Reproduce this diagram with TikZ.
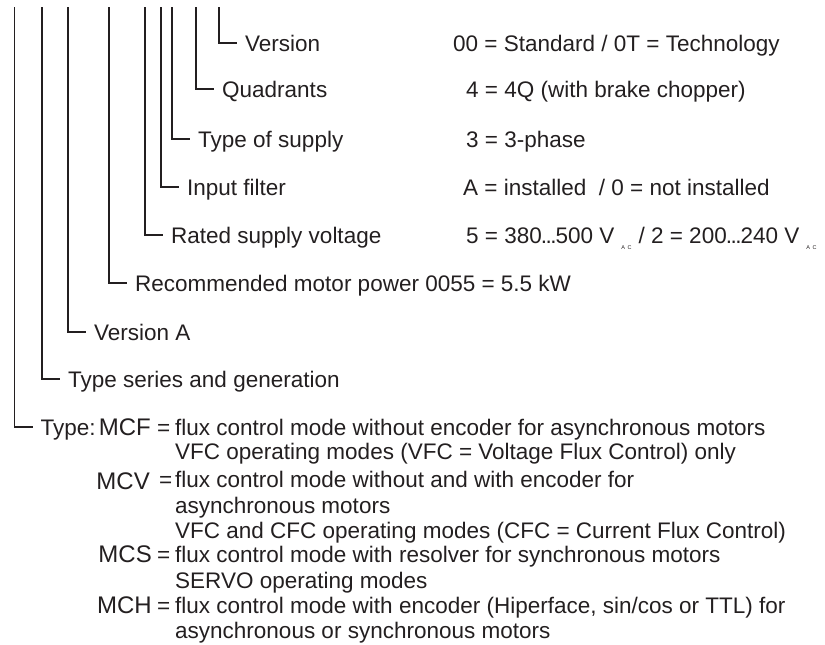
\documentclass[tikz,border=0pt]{standalone}
\usepackage{fontspec}
\setmainfont{Liberation Sans}
\definecolor{ink}{RGB}{35,31,32}
\newcommand\mainsz{\fontsize{22.5}{26}\selectfont}
\newcommand\acsub{\hspace{7pt}\raisebox{-6pt}{\fontsize{5.5}{5.5}\selectfont A\hspace{2.5pt}C}}
\newcommand\tdots{\kern-1pt.\kern-1.5pt.\kern-1.5pt.\kern-1pt}
\begin{document}
\begin{tikzpicture}[x=1pt,y=-1pt,
  conn/.style={draw=ink, line width=1.5pt},
  lbl/.style={anchor=west, inner xsep=8pt, inner ysep=0pt, text height=16pt, text depth=0pt, font=\mainsz, text=ink},
  val/.style={anchor=base west, inner sep=0pt, font=\mainsz, text=ink},
  code/.style={anchor=base east, inner sep=0pt, font=\fontsize{24}{26}\selectfont, text=ink}]
\useasboundingbox (0,0) rectangle (825,645);
% labels
\node[lbl] (l1) at (237,43) {Version};
\node[lbl] (l2) at (214,89) {Quadrants};
\node[lbl] (l3) at (190,139) {Type of supply};
\node[lbl] (l4) at (179,187) {Input filter};
\node[lbl] (l5) at (163,235) {Rated supply voltage};
\node[lbl] (l6) at (127,283) {Recommended motor power 0055 = 5.5 kW};
\node[lbl] (l7) at (86,332) {Version A};
\node[lbl] (l8) at (60,379) {Type series and generation};
\node[lbl] (l9) at (32.5,427) {Type:};
% top ends of the connectors
\coordinate (t1) at (219,7);
\coordinate (t2) at (196,7);
\coordinate (t3) at (172,7);
\coordinate (t4) at (161,7);
\coordinate (t5) at (145,7);
\coordinate (t6) at (109,7);
\coordinate (t7) at (68,7);
\coordinate (t8) at (42,7);
\coordinate (t9) at (14.5,7);
\foreach \i in {1,...,9} {\draw[conn] (t\i) |- (l\i.west);}
% values
\node[val] (v1) at (453,51) {00 = Standard / 0T = Technology};
\node[val] (v2) at (466,97) {4 = 4Q (with brake chopper)};
\node[val] (v3) at (466,147) {3 = 3-phase};
\node[val] (v4) at (463,195) {A = installed\ \ / 0 = not installed};
\node[val] (v5) at (466,243) {5 = 380\tdots500 V\acsub\hspace{7pt}/ 2 = 200\tdots240 V\acsub};
% type block
\node[code] (m1) at (151,435) {MCF};
\node[code] (m2) at (150,489) {MCV};
\node[code] (m3) at (152,562) {MCS};
\node[code] (m4) at (152,613) {MCH};
\node[val] (e1) at (157,435) {=};
\node[val] (e2) at (159,487) {=};
\node[val] (e3) at (157,562) {=};
\node[val] (e4) at (157,613) {=};
\node[val] (d1) at (175,435) {flux control mode without encoder for asynchronous motors};
\node[val] (d2) at (175,459) {VFC operating modes (VFC = Voltage Flux Control) only};
\node[val] (d3) at (175,487) {flux control mode without and with encoder for};
\node[val] (d4) at (175,513) {asynchronous motors};
\node[val] (d5) at (175,538) {VFC and CFC operating modes (CFC = Current Flux Control)};
\node[val] (d6) at (175,562) {flux control mode with resolver for synchronous motors};
\node[val] (d7) at (175,588) {SERVO operating modes};
\node[val] (d8) at (175,613) {flux control mode with encoder (Hiperface, sin/cos or TTL) for};
\node[val] (d9) at (175,638) {asynchronous or synchronous motors};
\end{tikzpicture}
\end{document}
